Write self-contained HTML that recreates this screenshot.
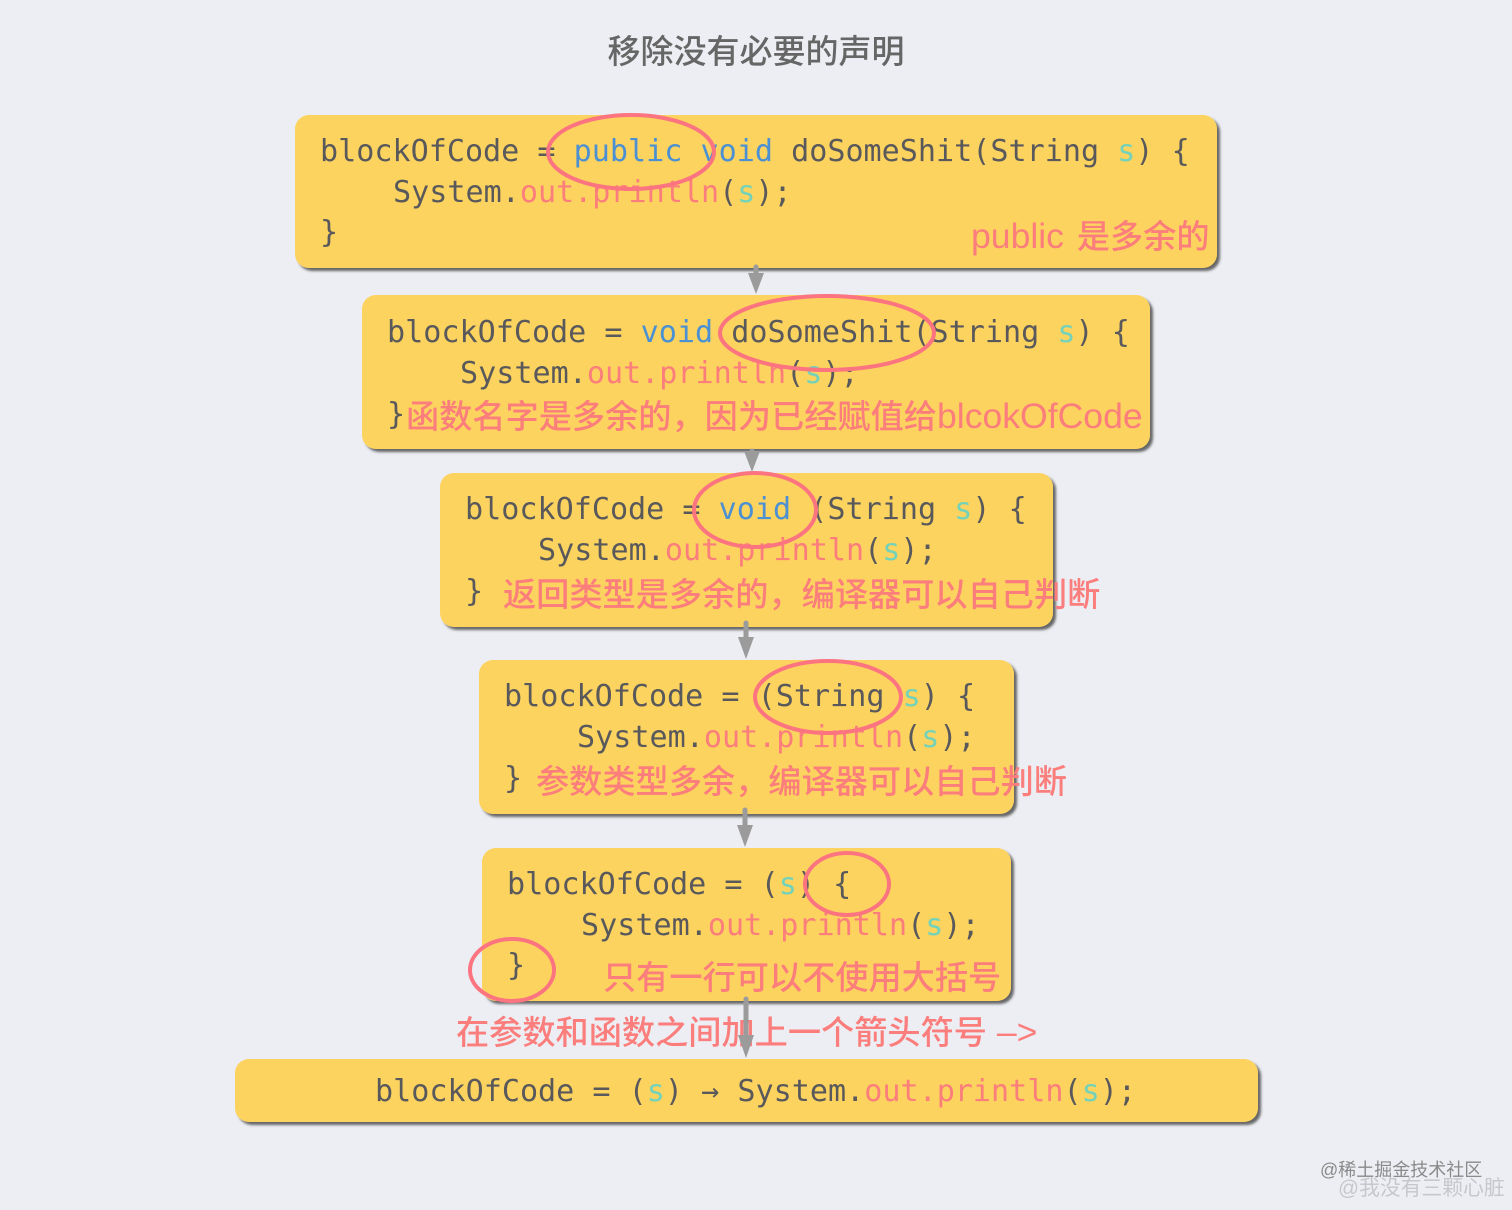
<!DOCTYPE html>
<html><head><meta charset="utf-8"><style>
html,body{margin:0;padding:0;background:#eceef3}
svg{display:block}
.m{font-family:"DejaVu Sans Mono","Liberation Mono",monospace;font-size:30.1px;fill:#59595c;white-space:pre}
.c{font-family:"Liberation Sans","Noto Sans CJK SC",sans-serif;font-size:33.2px;font-weight:500;fill:#fb7d7c}
.la{font-size:35.6px}
.b{fill:#4a90d2}.r{fill:#fb7d7c}.t{fill:#72d2ba}
.box{fill:#fdd35f;filter:url(#s)}
.e{fill:none;stroke:#fb7480;stroke-width:4}
.l{stroke:#9b9b9b;stroke-width:5;stroke-linecap:round}
.h{fill:#9b9b9b}
</style></head><body>
<svg width="1512" height="1210" viewBox="0 0 1512 1210" xmlns="http://www.w3.org/2000/svg" xml:space="preserve">
<defs><filter id="s" x="-5%" y="-10%" width="110%" height="125%"><feDropShadow dx="3" dy="3" stdDeviation="1.3" flood-color="#444" flood-opacity=".8"/></filter></defs>
<rect width="1512" height="1210" fill="#eceef3"/>
<text x="756" y="63" text-anchor="middle" style="font-family:'Liberation Sans','Noto Sans CJK SC',sans-serif;font-size:33px;font-weight:500;fill:#666">移除没有必要的声明</text>

<rect class="box" x="295" y="115" width="922" height="153" rx="14"/>
<rect class="box" x="362" y="295" width="788" height="154" rx="14"/>
<rect class="box" x="440" y="473" width="613" height="154" rx="14"/>
<rect class="box" x="479" y="660" width="535" height="154" rx="14"/>
<rect class="box" x="482" y="848" width="529" height="153" rx="14"/>
<rect class="box" x="235" y="1059" width="1023" height="63" rx="14"/>

<text class="m" x="320" y="161">blockOfCode = <tspan class="b">public void</tspan> doSomeShit(String <tspan class="t">s</tspan>) {</text>
<text class="m" x="393" y="202">System.<tspan class="r">out.println</tspan>(<tspan class="t">s</tspan>);</text>
<text class="m" x="320" y="242">}</text>
<text class="c" x="971" y="248"><tspan class="la">public </tspan><tspan dx="3">是多余的</tspan></text>

<text class="m" x="387" y="342">blockOfCode = <tspan class="b">void</tspan> doSomeShit(String <tspan class="t">s</tspan>) {</text>
<text class="m" x="460" y="383">System.<tspan class="r">out.println</tspan>(<tspan class="t">s</tspan>);</text>
<text class="m" x="387" y="424">}</text>
<text class="c" x="406" y="428">函数名字是多余的，因为已经赋值给<tspan class="la">blcokOfCode</tspan></text>

<text class="m" x="465" y="519">blockOfCode = <tspan class="b">void</tspan> (String <tspan class="t">s</tspan>) {</text>
<text class="m" x="538" y="560">System.<tspan class="r">out.println</tspan>(<tspan class="t">s</tspan>);</text>
<text class="m" x="465" y="601">}</text>
<text class="c" x="503" y="606">返回类型是多余的，编译器可以自己判断</text>

<text class="m" x="504" y="706">blockOfCode = (String <tspan class="t">s</tspan>) {</text>
<text class="m" x="577" y="747">System.<tspan class="r">out.println</tspan>(<tspan class="t">s</tspan>);</text>
<text class="m" x="504" y="788">}</text>
<text class="c" x="536" y="793">参数类型多余，编译器可以自己判断</text>

<text class="m" x="507" y="894">blockOfCode = (<tspan class="t">s</tspan>) {</text>
<text class="m" x="581" y="935">System.<tspan class="r">out.println</tspan>(<tspan class="t">s</tspan>);</text>
<text class="m" x="507" y="975">}</text>
<text class="c" x="603" y="989">只有一行可以不使用大括号</text>

<text class="c" x="456" y="1044">在参数和函数之间加上一个箭头符号<tspan class="la"> –&gt;</tspan></text>
<text class="m" x="375" y="1101">blockOfCode = (<tspan class="t">s</tspan>) → System.<tspan class="r">out.println</tspan>(<tspan class="t">s</tspan>);</text>

<ellipse class="e" cx="631" cy="152" rx="83" ry="37"/>
<ellipse class="e" cx="827" cy="333" rx="107" ry="37"/>
<ellipse class="e" cx="755" cy="510" rx="61" ry="37"/>
<ellipse class="e" cx="828" cy="697" rx="73" ry="36"/>
<ellipse class="e" cx="847" cy="884" rx="42" ry="31"/>
<ellipse class="e" cx="512" cy="970" rx="42" ry="31"/>

<line class="l" x1="756" y1="267" x2="756" y2="280"/><polygon class="h" points="748,273 764,273 756,294"/>
<line class="l" x1="752" y1="451" x2="752" y2="460"/><polygon class="h" points="744,451 760,451 752,472"/>
<line class="l" x1="746" y1="623" x2="746" y2="645"/><polygon class="h" points="738,637 754,637 746,659"/>
<line class="l" x1="745" y1="810" x2="745" y2="832"/><polygon class="h" points="737,825 753,825 745,847"/>
<line class="l" x1="746" y1="999" x2="746" y2="1045"/><polygon class="h" points="738,1035 754,1035 746,1058"/>

<text x="1320" y="1176" style="font-family:'Liberation Sans','Noto Sans CJK SC',sans-serif;font-size:18px;fill:#8a8a8a">@稀土掘金技术社区</text>
<text x="1338" y="1195" style="font-family:'Liberation Sans','Noto Sans CJK SC',sans-serif;font-size:20.8px;fill:#c6c8cc">@我没有三颗心脏</text>
</svg>
</body></html>
